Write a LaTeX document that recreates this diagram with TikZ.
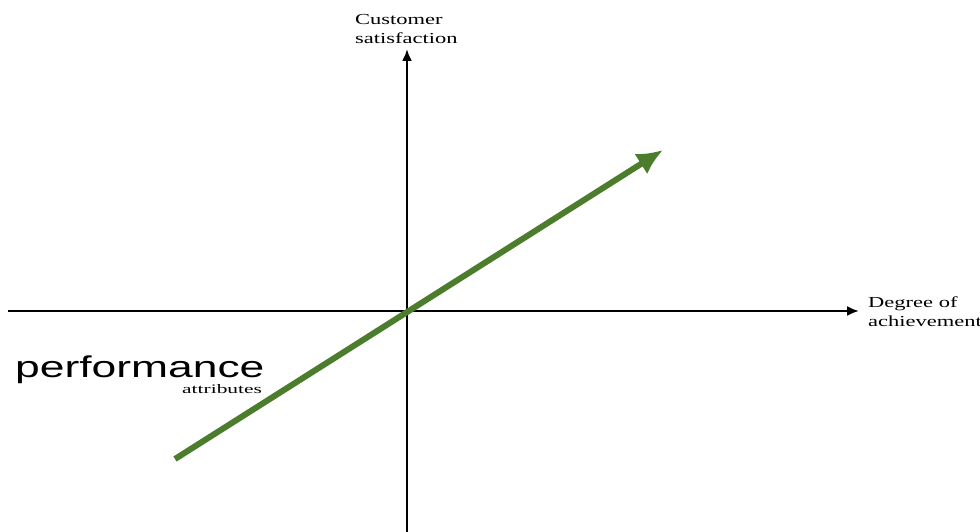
\documentclass[tikz,border=0pt]{standalone}
\usepackage{fontspec}
\usepackage{xcolor}
\usepackage{tikz}
\usetikzlibrary{arrows.meta,positioning}
\newfontfamily\axisfont[FakeStretch=1.47]{Liberation Serif}
\newfontfamily\smallfont[FakeStretch=1.65]{Liberation Serif}
\newfontfamily\bigfont[FakeStretch=1.48]{Liberation Sans}
\definecolor{perfgreen}{RGB}{76,125,44}

\begin{document}
\begin{tikzpicture}[
    x=1pt, y=-1pt,
    >=Latex,
    axis/.style={line width=2.2pt, -{Latex[length=12pt, width=10pt]}},
    trend/.style={line width=6pt, perfgreen, -{Latex[length=26pt, width=24pt]}},
    axislabel/.style={inner sep=0pt, align=left, font=\axisfont\fontsize{15.3}{19}\selectfont},
    title/.style={inner sep=0pt, font=\bigfont\fontsize{30}{34}\selectfont},
    subtitle/.style={inner sep=0pt, font=\smallfont\fontsize{13}{15}\selectfont}
]
\useasboundingbox (0,0) rectangle (980,532);

\coordinate (origin) at (407,311);
\coordinate (ybot) at (407,532);
\coordinate (ytop) at (407,49);
\coordinate (xleft) at (8,311);
\coordinate (xright) at (859,311);
\coordinate (tstart) at (175,459);
\coordinate (tend) at (663,150);

\node[axislabel, anchor=north west] (ylabel) at (355,14) {Customer\\satisfaction};
\node[axislabel, anchor=north west] (xlabel) at (868,297) {Degree of\\achievement};
\node[title, anchor=base west] (perf) at (15,377) {performance};
\node[subtitle, anchor=base west] (attr) at (182,393) {attributes};

\draw[axis] (ybot) -- (ytop);
\draw[axis] (xleft) -- (xright);
\draw[trend] (tstart) -- (tend);

\end{tikzpicture}
\end{document}
